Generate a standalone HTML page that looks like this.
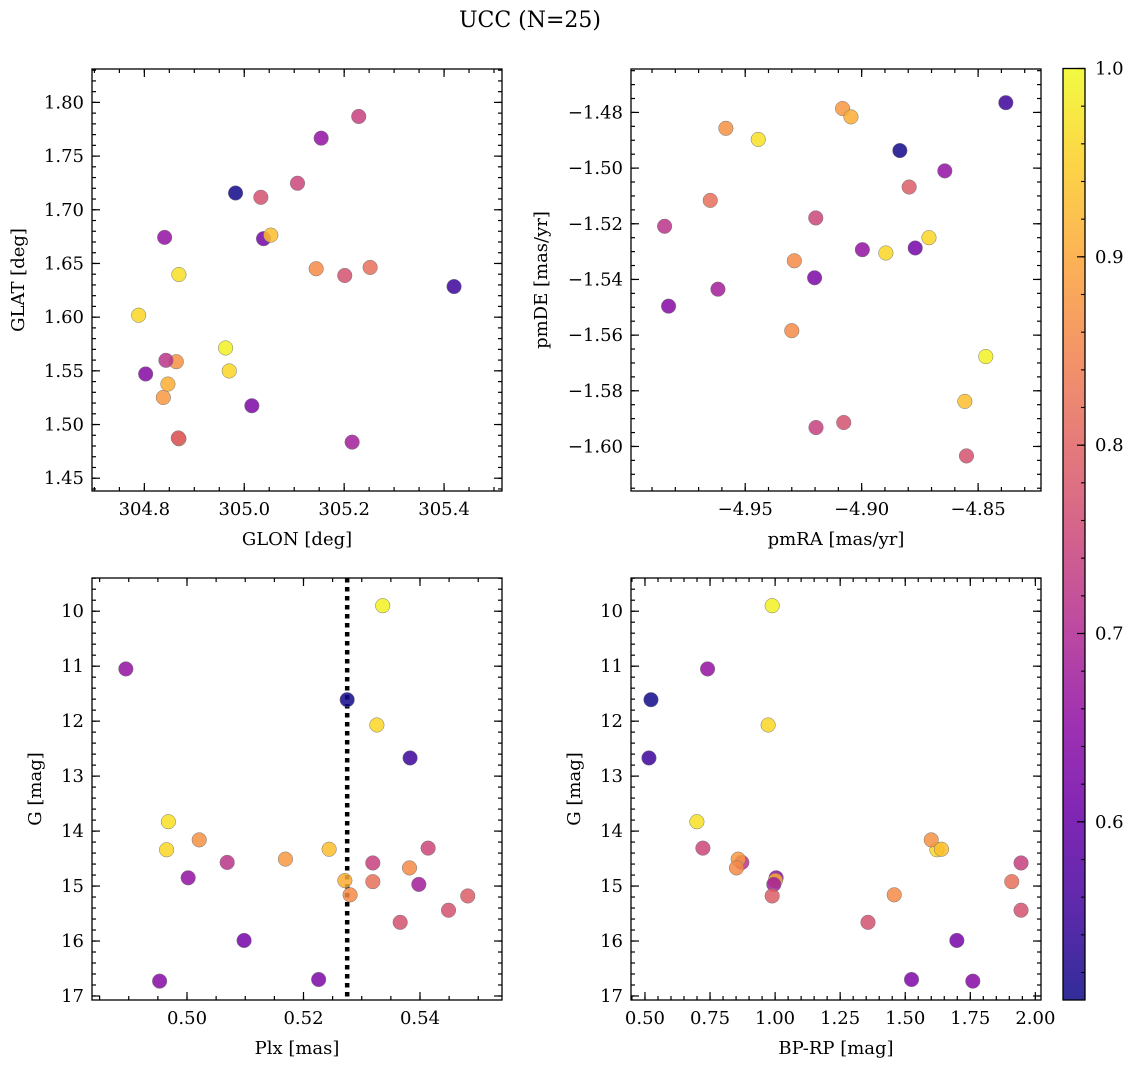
<!DOCTYPE html>
<html><head><meta charset="utf-8">
<style>
html,body{margin:0;padding:0;background:#fff;}
svg{display:block;font-family:"DejaVu Serif","Liberation Serif",serif;}
</style></head>
<body>
<svg id="fig" width="1136" height="1068" viewBox="0 0 1136 1068" xmlns="http://www.w3.org/2000/svg">
<text x="530" y="27" font-size="22" text-anchor="middle">UCC (N=25)</text>
</svg>
<script>
// star data (one entry per star, per column)
const glon = [304.8406,304.8026,304.8692,304.7886,304.8640,305.1540,304.8432,305.0386,304.8380,305.0532,305.0152,304.9826,304.8472,305.1440,304.9626,304.9700,305.2292,305.2520,305.4200,304.8692,305.0332,305.2160,305.1066,305.2012,304.8680];
const glat = [1.6743,1.5471,1.6397,1.6018,1.5585,1.7667,1.5598,1.6731,1.5252,1.6764,1.5175,1.7156,1.5377,1.6451,1.5713,1.5499,1.7869,1.6463,1.6285,1.4867,1.7116,1.4836,1.7247,1.6388,1.4875];
const pmra = [-4.8643,-4.9829,-4.9444,-4.8711,-4.9583,-4.8997,-4.9846,-4.8770,-4.9082,-4.8557,-4.9202,-4.8836,-4.9046,-4.9289,-4.8467,-4.8896,-4.9196,-4.9650,-4.8381,-4.9300,-4.9077,-4.9617,-4.9197,-4.8550,-4.8796];
const pmde = [-1.5010,-1.5496,-1.4897,-1.5250,-1.4857,-1.5293,-1.5209,-1.5287,-1.4786,-1.5838,-1.5394,-1.4937,-1.4816,-1.5333,-1.5677,-1.5305,-1.5932,-1.5116,-1.4765,-1.5584,-1.5914,-1.5435,-1.5179,-1.6034,-1.5068];
const plx = [0.4895,0.4953,0.4968,0.4965,0.5021,0.5002,0.5069,0.5098,0.5169,0.5244,0.5226,0.5275,0.5271,0.5280,0.5336,0.5326,0.5319,0.5319,0.5383,0.5382,0.5366,0.5398,0.5414,0.5449,0.5482];
const gmag = [11.05,16.73,13.83,14.34,14.16,14.85,14.57,15.99,14.51,14.33,16.70,11.61,14.90,15.16,9.90,12.07,14.58,14.92,12.67,14.67,15.66,14.97,14.31,15.44,15.18];
const bprp = [0.7405,1.7597,0.6995,1.6217,1.6000,1.0040,0.8721,1.6983,0.8583,1.6393,1.5242,0.5230,1.0013,1.4578,0.9887,0.9733,1.9450,1.9093,0.5153,0.8517,1.3569,0.9950,0.7225,1.9450,0.9887];
const prob = [0.66,0.64,0.97,0.96,0.87,0.66,0.72,0.62,0.88,0.93,0.63,0.51,0.91,0.86,0.99,0.96,0.74,0.82,0.55,0.86,0.77,0.68,0.75,0.77,0.79];
const plxLine = 0.5275;
const cbTicks = [0.6,0.7,0.8,0.9,1.0];
const vmin = 0.5054, vmax = 1.0;

const NS = "http://www.w3.org/2000/svg";
const svg = document.getElementById('fig');
function mk(tag, attrs, parent){
  const e = document.createElementNS(NS, tag);
  for (const k in attrs) e.setAttribute(k, attrs[k]);
  (parent||svg).appendChild(e);
  return e;
}
const stops = ['#0d0887','#41049d','#6a00a8','#8f0da4','#b12a90','#cc4778','#e16462','#f2844b','#fca636','#fcce25','#f0f921'];
function hex(h){return [parseInt(h.slice(1,3),16),parseInt(h.slice(3,5),16),parseInt(h.slice(5,7),16)];}
function plasma(t){
  t=Math.max(0,Math.min(1,t));
  const f=t*10, i=Math.min(9,Math.floor(f)), r=f-i;
  const a=hex(stops[i]), b=hex(stops[i+1]);
  return 'rgb('+a.map((v,k)=>Math.round(v+(b[k]-v)*r)).join(',')+')';
}
function fmt(v,d){ const s=v.toFixed(d); return s.startsWith('-')? '\u2212'+s.slice(1): s; }

function panel(o){
  const g = mk('g',{});
  
  
  const sx = v => o.x0 + (v-o.xmin)/(o.xmax-o.xmin)*(o.x1-o.x0);
  const sy = o.yinv ? (v => o.y0 + (v-o.ymin)/(o.ymax-o.ymin)*(o.y1-o.y0))
                    : (v => o.y1 - (v-o.ymin)/(o.ymax-o.ymin)*(o.y1-o.y0));
  const eps=1e-9;
  function ticksX(step,len,label){
    const s=Math.ceil((o.xmin-eps)/step), e=Math.floor((o.xmax+eps)/step);
    for(let i=s;i<=e;i++){
      const v=i*step, x=sx(v);
      mk('line',{x1:x,x2:x,y1:o.y1,y2:o.y1-len,stroke:'#000','stroke-width':1.2},g);
      mk('line',{x1:x,x2:x,y1:o.y0,y2:o.y0+len,stroke:'#000','stroke-width':1.2},g);
      if(label){
        const t=mk('text',{x:x,y:o.y1+24,'font-size':18,'text-anchor':'middle'},g);
        t.textContent=fmt(v,o.xd);
        
        
      }
    }
  }
  function ticksY(step,len,label){
    const s=Math.ceil((o.ymin-eps)/step), e=Math.floor((o.ymax+eps)/step);
    for(let i=s;i<=e;i++){
      const v=i*step, y=sy(v);
      mk('line',{x1:o.x0,x2:o.x0+len,y1:y,y2:y,stroke:'#000','stroke-width':1.2},g);
      mk('line',{x1:o.x1,x2:o.x1-len,y1:y,y2:y,stroke:'#000','stroke-width':1.2},g);
      if(label){
        const t=mk('text',{x:o.x0-8,y:y+6,'font-size':18,'text-anchor':'end'},g);
        t.textContent=fmt(v,o.yd);
        
        
      }
    }
  }
  ticksX(o.xminor,4,false); ticksX(o.xmajor,8,true);
  ticksY(o.yminor,4,false); ticksY(o.ymajor,8,true);
  if(o.vline!==undefined){
    const l=mk('line',{x1:sx(o.vline),x2:sx(o.vline),y1:o.y0,y2:o.y1,stroke:'#000','stroke-width':4.5,'stroke-dasharray':'4.5,4.5'},g);
    
    
  }
  for(let i=0;i<o.xs.length;i++){
    const c=mk('circle',{cx:sx(o.xs[i]),cy:sy(o.ys[i]),r:7.3,fill:plasma((prob[i]-vmin)/(vmax-vmin)),'fill-opacity':0.85,stroke:'#777','stroke-width':0.5},g);
    
    
  }
  const fr=mk('rect',{x:o.x0,y:o.y0,width:o.x1-o.x0,height:o.y1-o.y0,fill:'none',stroke:'#000','stroke-width':1.3},g);
  
  
  const xl=mk('text',{x:(o.x0+o.x1)/2,y:o.y1+54,'font-size':18,'text-anchor':'middle'},g);
  xl.textContent=o.xlabel;
  
  
  const yl=mk('text',{x:0,y:0,'font-size':18,'text-anchor':'middle',transform:'translate('+o.ylx+','+((o.y0+o.y1)/2)+') rotate(-90)'},g);
  yl.textContent=o.ylabel;
  
  
}

panel({name:'glon-glat-panel',x0:92,x1:502,y0:69,y1:491,xmin:304.6952,xmax:305.516,ymin:1.4381,ymax:1.8311,
  xmajor:0.2,xminor:0.05,ymajor:0.05,yminor:0.01,xd:1,yd:2,xs:glon,ys:glat,xlabel:'GLON [deg]',ylabel:'GLAT [deg]',ylx:24});
panel({name:'pm-panel',x0:631,x1:1041,y0:69,y1:491,xmin:-4.99903,xmax:-4.823,ymin:-1.6160,ymax:-1.4644,
  xmajor:0.05,xminor:0.01,ymajor:0.02,yminor:0.005,xd:2,yd:2,xs:pmra,ys:pmde,xlabel:'pmRA [mas/yr]',ylabel:'pmDE [mas/yr]',ylx:547});
panel({name:'plx-g-panel',x0:92,x1:502,y0:578,y1:1000,xmin:0.48369,xmax:0.55408,ymin:9.396,ymax:17.073,yinv:true,
  xmajor:0.02,xminor:0.005,ymajor:1,yminor:0.2,xd:2,yd:0,xs:plx,ys:gmag,xlabel:'Plx [mas]',ylabel:'G [mag]',ylx:41,vline:plxLine});
panel({name:'cmd-panel',x0:631,x1:1041,y0:578,y1:1000,xmin:0.4463,xmax:2.0217,ymin:9.396,ymax:17.073,yinv:true,
  xmajor:0.25,xminor:0.05,ymajor:1,yminor:0.2,xd:2,yd:0,xs:bprp,ys:gmag,xlabel:'BP-RP [mag]',ylabel:'G [mag]',ylx:580});

// colorbar
const cb = mk('g',{});


const cx0=1063,cx1=1085,cy0=68.5,cy1=1000;
const defs=mk('defs',{},cb);
const lg=mk('linearGradient',{id:'cbg',x1:0,y1:1,x2:0,y2:0},defs);
for(let i=0;i<=20;i++){ mk('stop',{offset:(i/20),'stop-color':plasma(i/20),'stop-opacity':0.85},lg); }
mk('rect',{x:cx0,y:cy0,width:cx1-cx0,height:cy1-cy0,fill:'url(#cbg)',stroke:'#000','stroke-width':1.3},cb);
const cby = v => cy1-(v-vmin)/(vmax-vmin)*(cy1-cy0);
for(let v=0.52; v<=1.0001; v+=0.02){ const y=cby(v); mk('line',{x1:cx1,x2:cx1-4,y1:y,y2:y,stroke:'#000','stroke-width':1.1},cb); }
for(const v of cbTicks){
  const y=cby(v);
  mk('line',{x1:cx1,x2:cx1-8,y1:y,y2:y,stroke:'#000','stroke-width':1.2},cb);
  const t=mk('text',{x:cx1+10,y:y+6,'font-size':18},cb);
  t.textContent=v.toFixed(1);
  
  
}
</script>
</body></html>
